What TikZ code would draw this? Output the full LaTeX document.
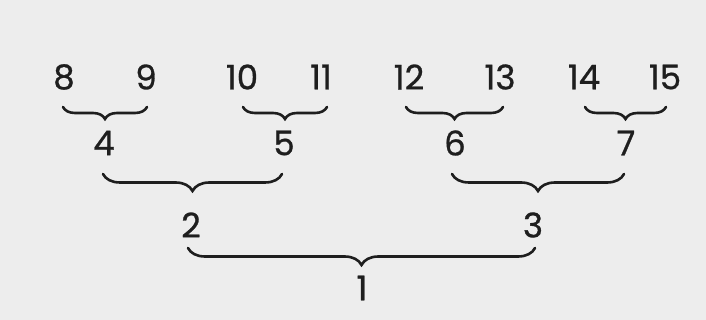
\documentclass[tikz,border=0pt]{standalone}
\usepackage{fontspec}
\setmainfont{Poppins}
\newfontfamily\numfont{Poppins}[BoldFont={Poppins}, BoldFeatures={FakeBold=0.8}]
\usetikzlibrary{decorations.pathreplacing}
\definecolor{ink}{HTML}{1E1E1E}
\definecolor{paper}{HTML}{EDEDED}
\begin{document}
\begin{tikzpicture}[x=1pt,y=-1pt,
  num/.style={font=\numfont\bfseries\fontsize{34}{34}\selectfont, text=ink, inner sep=0pt, anchor=center},
  brsmall/.style={draw=ink, line width=2.6pt, line cap=round, decorate, decoration={brace, mirror, amplitude=12pt}},
  brbig/.style={draw=ink, line width=2.6pt, line cap=round, decorate, decoration={brace, mirror, amplitude=17pt}}]
\fill[paper] (0,0) rectangle (706,320);
\useasboundingbox (0,0) rectangle (706,320);
% top row
\node[num] (n8)  at (64,77)  {8};
\node[num] (n9)  at (146,77) {9};
\node[num] (n10) at (242,77) {10};
\node[num] (n11) at (321,77) {11};
\node[num] (n12) at (409,77) {12};
\node[num] (n13) at (500,77) {13};
\node[num] (n14) at (584,77) {14};
\node[num] (n15) at (665,77) {15};
% second row
\node[num] (n4) at (104,143) {4};
\node[num] (n5) at (284,143) {5};
\node[num] (n6) at (455,143) {6};
\node[num] (n7) at (626,143) {7};
% third row
\node[num] (n2) at (191,225) {2};
\node[num] (n3) at (533,225) {3};
% bottom
\node[num] (n1) at (362,288) {1};
% brace end points
\coordinate (b4l) at (63,107);  \coordinate (b4r) at (147,107);
\coordinate (b5l) at (243,107); \coordinate (b5r) at (327,107);
\coordinate (b6l) at (406,107); \coordinate (b6r) at (503,107);
\coordinate (b7l) at (585,107); \coordinate (b7r) at (666,107);
\coordinate (b2l) at (103,174); \coordinate (b2r) at (282,174);
\coordinate (b3l) at (452,174); \coordinate (b3r) at (624,174);
\coordinate (b1l) at (188,248); \coordinate (b1r) at (535,248);
\draw[brsmall] (b4l) -- (b4r);
\draw[brsmall] (b5l) -- (b5r);
\draw[brsmall] (b6l) -- (b6r);
\draw[brsmall] (b7l) -- (b7r);
\draw[brbig] (b2l) -- (b2r);
\draw[brbig] (b3l) -- (b3r);
\draw[brbig] (b1l) -- (b1r);
\end{tikzpicture}
\end{document}
